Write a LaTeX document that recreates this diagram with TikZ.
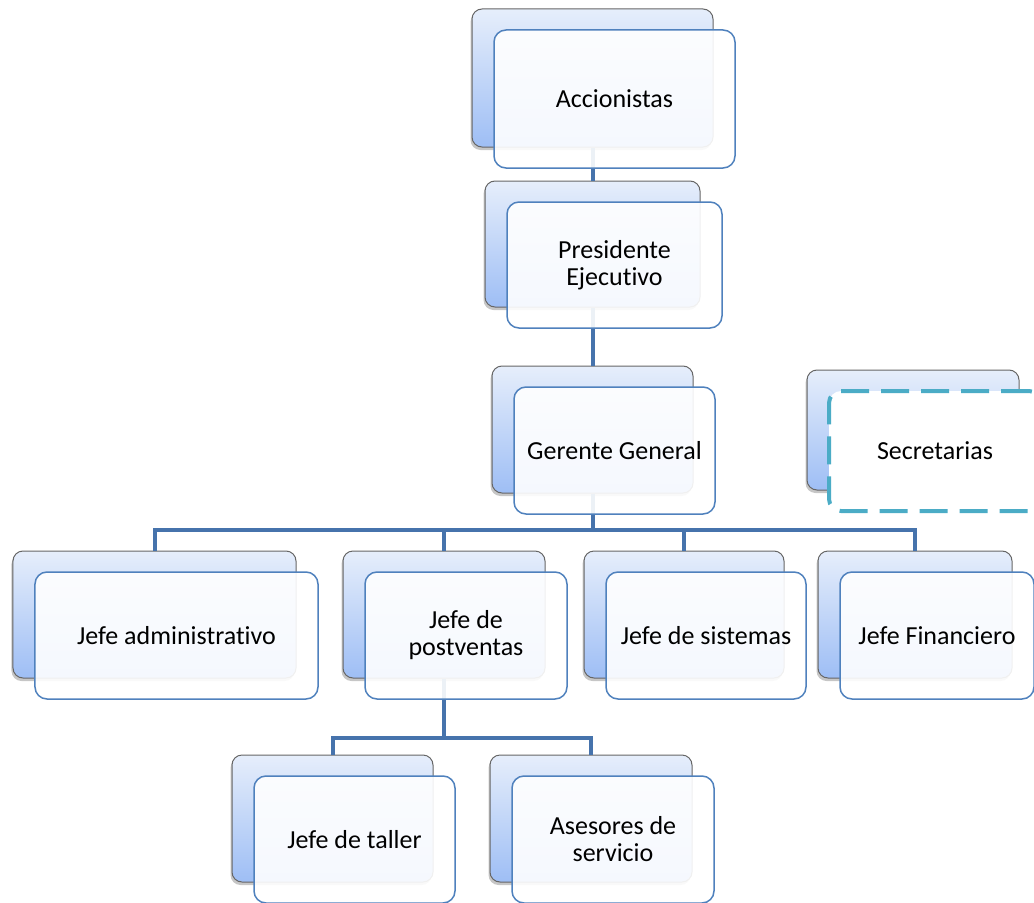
\documentclass[tikz,border=0pt]{standalone}
\usepackage{fontspec}
\setmainfont{Carlito}[Ligatures={NoCommon}]
\usetikzlibrary{shadows,calc}
\definecolor{connc}{RGB}{70,115,172}
\definecolor{frontb}{RGB}{79,129,189}
\definecolor{backtop}{RGB}{230,238,251}
\definecolor{backbot}{RGB}{158,190,245}
\definecolor{secb}{RGB}{75,172,198}
\newcommand\unitback[5]{\node[backbox,minimum width=#4bp,minimum height=#5bp] (#1) at (#2,#3) {};}
\newcommand\unitfront[4]{\node[frontbox,minimum width=#2bp,minimum height=#3bp] (#1f) at ($(#1.center)+(22,21)$) {#4};}
\begin{document}
\begin{tikzpicture}[x=1bp,y=-1bp,
  backbox/.style={draw=black!60, line width=1bp, rounded corners=10bp, top color=backtop, bottom color=backbot,
    drop shadow={shadow xshift=-1.5bp, shadow yshift=-3bp, opacity=0.45}},
  frontbox/.style={draw=frontb, line width=1.5bp, rounded corners=12bp, fill=white, fill opacity=0.9, text opacity=1,
    align=center, font=\fontsize{26bp}{27bp}\selectfont},
  secbox/.style={frontbox, draw=secb, line width=4bp, dash pattern=on 28bp off 12bp, fill opacity=1},
  conn/.style={draw=connc, line width=4bp}]
\useasboundingbox (0,0) rectangle (1034,903);
% back boxes
\unitback{acc}{592.5}{78}{241}{138}
\unitback{pres}{592.5}{244}{215}{126}
\unitback{ger}{592.5}{429.5}{201}{127}
\unitback{sec}{913}{430}{212}{120}
\unitback{jadm}{154.5}{614.5}{283}{127}
\unitback{jpost}{444}{614.5}{202}{127}
\unitback{jsis}{684}{614.5}{200}{127}
\unitback{jfin}{915}{614.5}{194}{127}
\unitback{jtal}{332.5}{818.5}{201}{127}
\unitback{ases}{591}{818.5}{202}{127}
% connectors
\coordinate (bus) at (592.5,530);
\coordinate (bus2) at (444,738);
\draw[conn] (acc.south) -- (pres.north);
\draw[conn] (pres.south) -- (ger.north);
\draw[conn] (ger.south) -- (bus);
\draw[conn] (bus) -| (jadm.north);
\draw[conn] (bus) -| (jpost.north);
\draw[conn] (bus) -| (jsis.north);
\draw[conn] (bus) -| (jfin.north);
\draw[conn] (jpost.south) -- (bus2);
\draw[conn] (bus2) -| (jtal.north);
\draw[conn] (bus2) -| (ases.north);
% front boxes
\unitfront{acc}{241}{138}{Accionistas}
\unitfront{pres}{215}{126}{Presidente\\Ejecutivo}
\unitfront{ger}{201}{127}{Gerente General}
\node[secbox,minimum width=212bp,minimum height=120bp] (secf) at ($(sec.center)+(22,21)$) {Secretarias};
\unitfront{jadm}{283}{127}{Jefe administrativo}
\unitfront{jpost}{202}{127}{Jefe de\\postventas}
\unitfront{jsis}{200}{127}{Jefe de sistemas}
\unitfront{jfin}{194}{127}{Jefe Financiero}
\unitfront{jtal}{201}{127}{Jefe de taller}
\unitfront{ases}{202}{127}{Asesores de\\servicio}
\end{tikzpicture}
\end{document}
